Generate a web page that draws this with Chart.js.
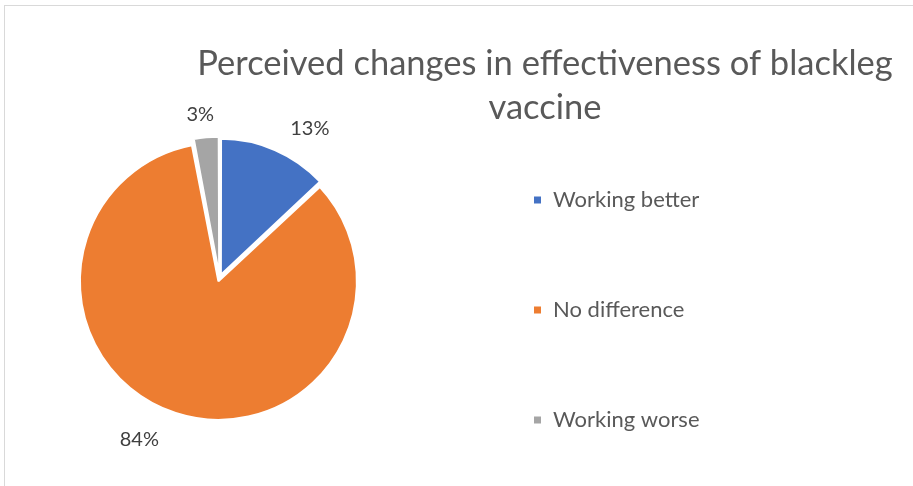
<!DOCTYPE html>
<html>
<head>
<meta charset="utf-8">
<script src="https://cdn.jsdelivr.net/npm/chart.js@4/dist/chart.umd.min.js"></script>
<style>
  html, body { margin: 0; padding: 0; background: #fff; overflow: hidden; }
  #frame { position: absolute; left: 4px; top: 5px; width: 1000px; height: 600px;
           border-left: 1px solid #d9d9d9; border-top: 1px solid #d9d9d9; }
  #chart { position: absolute; left: 0; top: 0; }
</style>
</head>
<body>
<div id="frame"></div>
<canvas id="chart" width="913" height="486"></canvas>
<script>
const categories = ["Working better", "No difference", "Working worse"]
const shares = [13, 84, 3]
const sliceColors = ["#4472C4", "#ED7D31", "#A5A5A5"]
const titleLines = ["Perceived changes in effectiveness of blackleg", "vaccine"]

// percent labels sit outside the rim: [turn past mid-angle in degrees, gap beyond radius]
const labelNudge = [[6.2, 25.5], [7.1, 31.7], [-1.1, 18.7]]

// title centred over the right part, legend column to the right of the pie
const placeBlocks = {
    id: "placeBlocks",
    afterLayout(chart) {
        const t = chart.titleBlock
        t.left = 145
        t.right = 945
        const lg = chart.legend
        lg.left = 445
        lg.right = 913
        lg.top = 101
        lg.bottom = 700
    }
}

const sliceLabels = {
    id: "sliceLabels",
    afterDatasetsDraw(chart) {
        const ctx = chart.ctx
        const meta = chart.getDatasetMeta(0)
        ctx.save()
        ctx.font = "20px Lato"
        ctx.fillStyle = "#404040"
        ctx.textAlign = "center"
        ctx.textBaseline = "middle"
        meta.data.forEach((arc, i) => {
            const {x, y, startAngle, endAngle, outerRadius} =
                arc.getProps(["x", "y", "startAngle", "endAngle", "outerRadius"], true)
            const mid = (startAngle + endAngle) / 2
            const shift = (arc.options.offset || 0) / 4
            const cx = x + Math.cos(mid) * shift
            const cy = y + Math.sin(mid) * shift
            const a = mid + labelNudge[i][0] * Math.PI / 180
            const r = outerRadius + labelNudge[i][1]
            const text = shares[i] + "%"
            const w = ctx.measureText(text).width
            ctx.fillText(text, cx + Math.cos(a) * (r + w / 2), cy + Math.sin(a) * (r + 7.5))
        })
        ctx.restore()
    }
}

new Chart(document.getElementById("chart"), {
    type: "pie",
    data: {
        labels: categories,
        datasets: [{
            data: shares,
            backgroundColor: sliceColors,
            borderColor: "#ffffff",
            borderWidth: 2,
            offset: 14,
            hoverOffset: 0,
            radius: 135
        }]
    },
    options: {
        responsive: false,
        animation: false,
        layout: {padding: {left: 0, top: 0, right: 474, bottom: 60}},
        plugins: {
            title: {
                display: true,
                text: titleLines,
                color: "#595959",
                font: {family: "Lato", size: 34.5, weight: "normal", lineHeight: "44px"},
                padding: {top: 42, bottom: 0}
            },
            legend: {
                position: "chartArea",
                align: "start",
                labels: {
                    boxWidth: 9,
                    boxHeight: 9,
                    padding: 88,
                    color: "#595959",
                    font: {family: "Lato", size: 22}
                }
            },
            tooltip: {enabled: false}
        }
    },
    plugins: [placeBlocks, sliceLabels]
})
</script>
</body>
</html>
